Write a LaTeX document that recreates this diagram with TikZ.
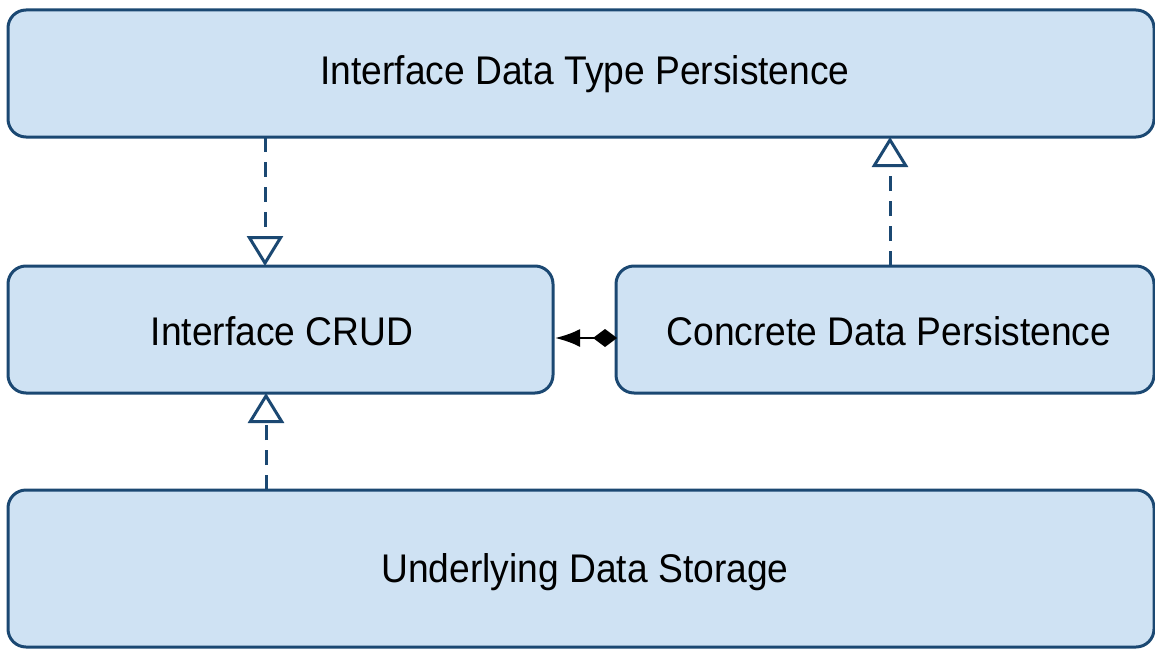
\documentclass[tikz,border=0pt]{standalone}
\usepackage{fontspec}
\setmainfont[FakeStretch=0.93]{Liberation Sans}
\usetikzlibrary{arrows.meta}
\definecolor{boxfill}{HTML}{CFE2F3}
\definecolor{boxline}{HTML}{1B4872}
\begin{document}
\begin{tikzpicture}[x=1pt,y=-1pt,
  box/.style={draw=boxline,fill=boxfill,line width=3pt,rounded corners=18pt},
  lbl/.style={font=\fontsize{40}{46}\selectfont,text=black},
  realize/.style={draw=boxline,line width=3pt,dash pattern=on 15pt off 10pt,
     -{Triangle[open,width=36pt,length=30pt,line width=3pt]}},
  comp/.style={draw=black,line width=2.6pt,
     {Diamond[width=18pt,length=24pt]}-{Latex[width=18pt,length=25pt]}}]
\useasboundingbox (0,0) rectangle (1155,650);
\draw[box] (8,10) rectangle (1154,137);
\node[lbl] (idtp) at (585,74) {Interface Data Type Persistence};
\draw[box] (8,266) rectangle (553,393);
\node[lbl] (crud) at (282,331) {Interface CRUD};
\draw[box] (616,266) rectangle (1154,393);
\node[lbl] (cdp) at (889,331) {Concrete Data Persistence};
\draw[box] (8,490) rectangle (1154,647);
\node[lbl] (uds) at (585,572) {Underlying Data Storage};
\coordinate (a1) at (265,137); \coordinate (a2) at (265,266);
\coordinate (b1) at (890,266); \coordinate (b2) at (890,137);
\coordinate (c1) at (266,490); \coordinate (c2) at (266,393);
\coordinate (d1) at (617,338); \coordinate (d2) at (555,338);
\draw[realize] (a1) -- (a2);
\draw[realize] (b1) -- (b2);
\draw[realize] (c1) -- (c2);
\draw[comp] (d1) -- (d2);
\end{tikzpicture}
\end{document}
